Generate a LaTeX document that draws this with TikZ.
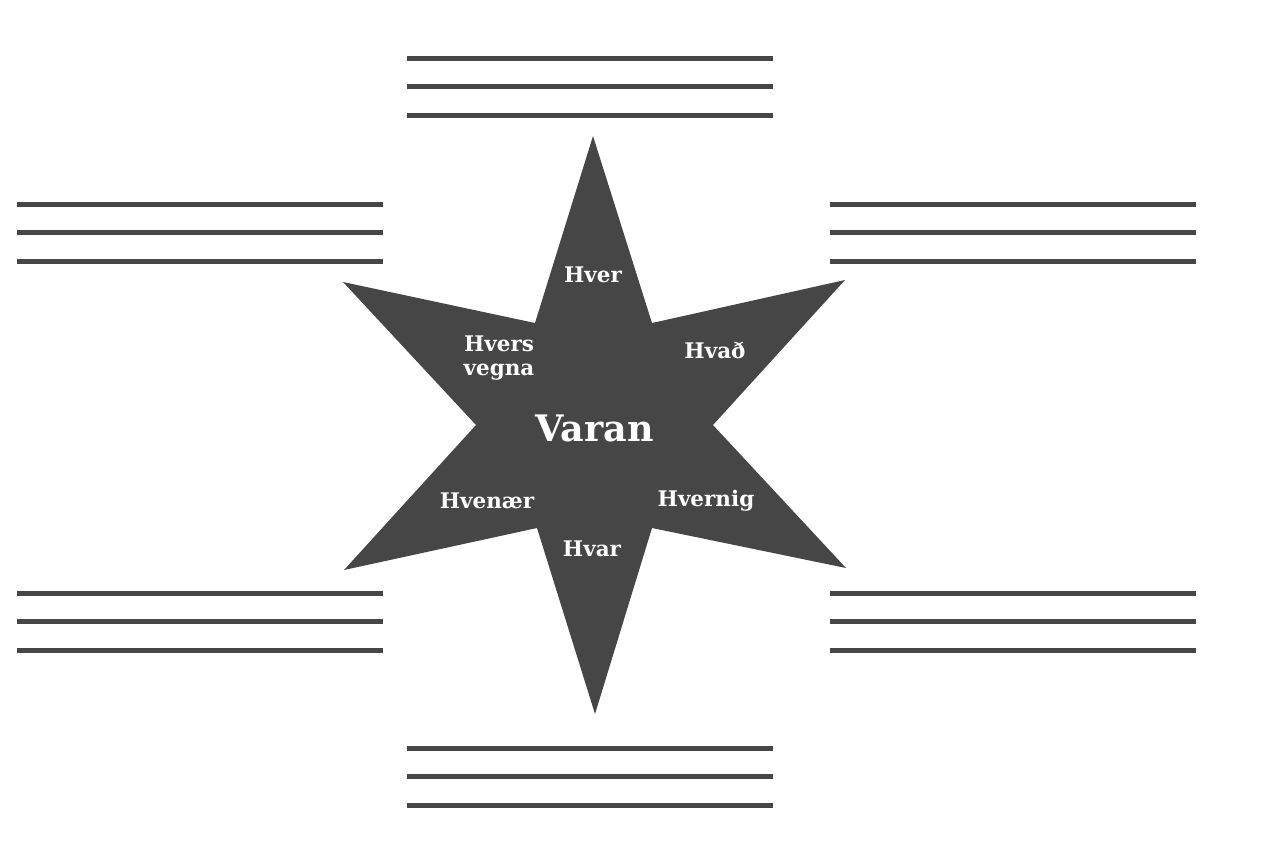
\documentclass[tikz,border=0pt]{standalone}
\usepackage{fontspec}
\setmainfont{DejaVu Serif}
\definecolor{ink}{HTML}{464646}
\begin{document}
\begin{tikzpicture}[x=1pt,y=-1pt,
  rule/.style={draw=ink,line width=5pt},
  lbl/.style={text=white,font=\fontsize{21.5}{24}\selectfont\bfseries,align=center,inner sep=0pt},
  big/.style={text=white,font=\fontsize{36.5}{40}\selectfont\bfseries,inner sep=0pt}]
\useasboundingbox (0,0) rectangle (1270,844);
\fill[ink] (593,136) -- (652,323) -- (845,280) -- (713,425) -- (846,568) -- (652,528)
  -- (595,714) -- (537,528) -- (344,570) -- (476,425) -- (343,282) -- (535,323) -- cycle;
\foreach \x/\y in {407/58, 17/204, 830/204, 17/593, 830/593, 407/748}{
  \foreach \d in {0,28.5,57}{
    \draw[rule] (\x,\y+\d) -- ++(366,0);
  }
}
\node[big] (c) at (595,428) {Varan};
\node[lbl] (n1) at (593,275) {Hver};
\node[lbl] (n2) at (715,350) {Hvað};
\node[lbl] (n3) at (706,501) {Hvernig};
\node[lbl] (n4) at (592,549) {Hvar};
\node[lbl] (n5) at (487,501) {Hvenær};
\node[lbl] (n6) at (499,358) {Hvers\\vegna};
\end{tikzpicture}
\end{document}
